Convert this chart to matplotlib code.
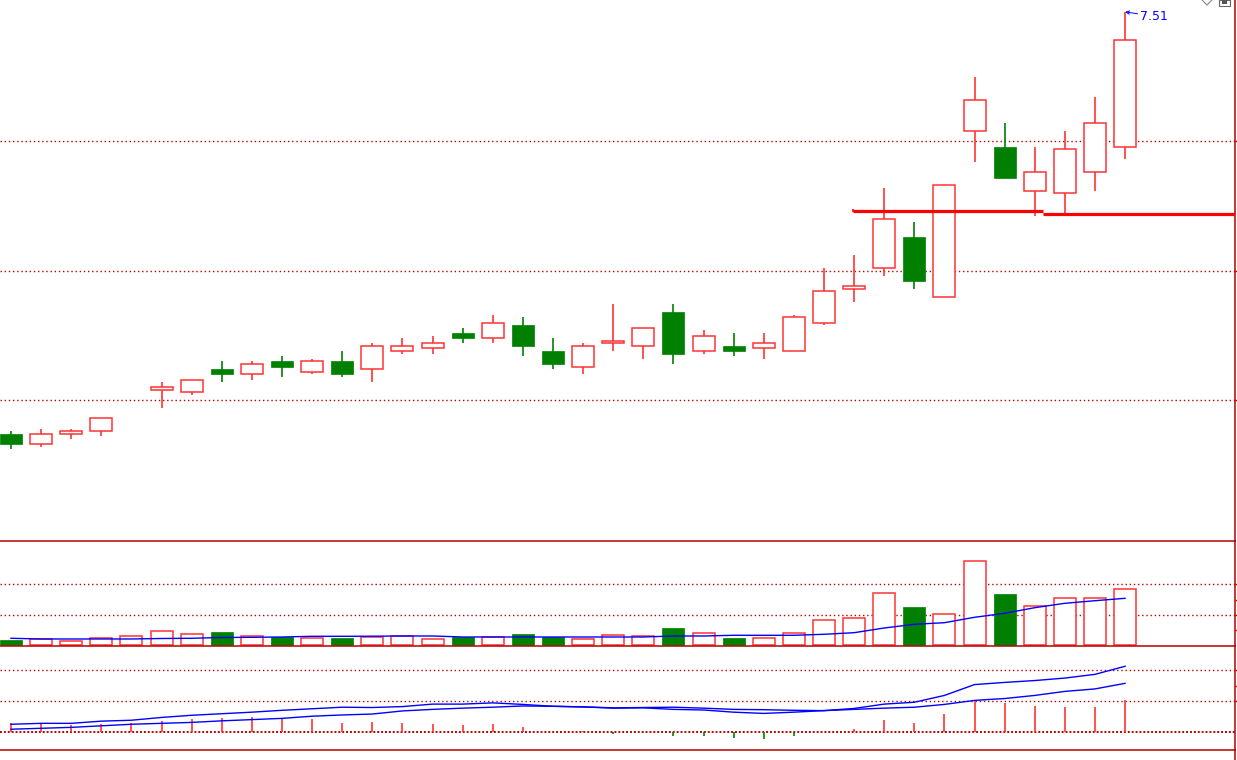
import numpy as np
import matplotlib.pyplot as plt
from matplotlib.patches import Rectangle
from matplotlib.lines import Line2D

nan = np.nan

# daily k-line data (one day, index 4, has volume but no drawn candle)
opens = [5.88, 5.84, 5.88, 5.89, nan, 6.05, 6.04, 6.13, 6.11, 6.16,
         6.12, 6.16, 6.13, 6.20, 6.21, 6.27, 6.25, 6.30, 6.20, 6.14,
         6.23, 6.22, 6.35, 6.20, 6.22, 6.21, 6.20, 6.31, 6.44, 6.52,
         6.64, 6.41, 7.05, 6.99, 6.82, 6.81, 6.89, 6.99]
highs = [5.89, 5.90, 5.90, 5.94, nan, 6.08, 6.09, 6.16, 6.16, 6.18,
         6.17, 6.20, 6.23, 6.25, 6.26, 6.29, 6.34, 6.33, 6.25, 6.23,
         6.38, 6.29, 6.38, 6.28, 6.27, 6.27, 6.34, 6.52, 6.57, 6.83,
         6.70, 6.84, 7.26, 7.08, 6.99, 7.05, 7.18, 7.51]
lows = [5.82, 5.83, 5.86, 5.87, nan, 5.98, 6.03, 6.08, 6.09, 6.10,
        6.11, 6.10, 6.08, 6.19, 6.19, 6.23, 6.23, 6.18, 6.13, 6.11,
        6.20, 6.17, 6.15, 6.19, 6.18, 6.17, 6.20, 6.30, 6.39, 6.49,
        6.44, 6.41, 6.93, 6.87, 6.72, 6.73, 6.82, 6.94]
closes = [5.84, 5.88, 5.89, 5.94, nan, 6.06, 6.09, 6.11, 6.15, 6.14,
          6.16, 6.11, 6.22, 6.22, 6.23, 6.25, 6.31, 6.22, 6.15, 6.22,
          6.24, 6.29, 6.19, 6.26, 6.20, 6.23, 6.33, 6.43, 6.45, 6.71,
          6.47, 6.84, 7.17, 6.87, 6.89, 6.98, 7.08, 7.40]

volumes = [1.74, 2.07, 1.31, 2.30, 2.95, 4.59, 3.61, 4.36, 2.95, 2.62,
           2.30, 2.39, 2.82, 3.05, 1.97, 2.62, 2.62, 3.71, 2.62, 1.97,
           3.28, 3.05, 5.67, 3.93, 2.39, 2.30, 3.93, 8.20, 8.85, 17.05,
           12.56, 10.16, 27.54, 16.82, 12.79, 15.41, 15.41, 18.36]
vol_ma5 = [2.30, 2.07, 2.07, 2.07, 2.07, 2.23, 2.30, 2.56, 2.62, 2.72,
           2.95, 2.95, 2.98, 3.05, 3.05, 2.72, 2.72, 2.72, 2.72, 2.72,
           2.72, 2.72, 3.05, 3.05, 3.28, 3.28, 3.28, 3.61, 4.13, 5.67,
           6.89, 7.41, 9.18, 10.49, 12.33, 13.77, 14.62, 15.41]

dif = [0.025, 0.028, 0.028, 0.035, 0.038, 0.047, 0.054, 0.059, 0.064, 0.070,
       0.075, 0.080, 0.079, 0.082, 0.090, 0.090, 0.094, 0.089, 0.083, 0.081,
       0.077, 0.078, 0.073, 0.071, 0.064, 0.060, 0.064, 0.069, 0.076, 0.090,
       0.096, 0.118, 0.153, 0.160, 0.166, 0.174, 0.186, 0.212]
dea = [0.009, 0.012, 0.015, 0.020, 0.025, 0.028, 0.031, 0.036, 0.040, 0.044,
       0.051, 0.055, 0.058, 0.068, 0.073, 0.077, 0.080, 0.084, 0.083, 0.081,
       0.078, 0.079, 0.080, 0.077, 0.073, 0.072, 0.070, 0.069, 0.073, 0.077,
       0.080, 0.089, 0.102, 0.108, 0.118, 0.131, 0.139, 0.157]
macd = [0.030, 0.028, 0.023, 0.026, 0.030, 0.036, 0.042, 0.045, 0.048, 0.045,
        0.042, 0.029, 0.032, 0.029, 0.026, 0.023, 0.026, 0.016, 0.000, 0.002,
        -0.005, -0.002, -0.013, -0.013, -0.019, -0.023, -0.013, 0.000, 0.009, 0.039,
        0.029, 0.058, 0.103, 0.094, 0.084, 0.081, 0.081, 0.103]

# hand-drawn support lines: (start index, end index, price)
support_lines = [(27.96, 34.28, 6.74), (34.28, 40.7, 6.73)]

RED = '#ff3333'
GREEN = '#008000'
BLUE = '#0000ff'
FRAME = '#b80000'
GRID = '#c00000'
BODY_W = 0.73

W, H = 1237, 760
fig = plt.figure(figsize=(W / 100, H / 100), dpi=100)
xr = 1234.5 / W
ax_k = fig.add_axes([0, 1 - 541.3 / H, xr, 541.3 / H])
ax_v = fig.add_axes([0, 1 - 646.3 / H, xr, 105 / H], sharex=ax_k)
ax_m = fig.add_axes([0, 1 - 750.3 / H, xr, 104 / H], sharex=ax_k)

idx = np.arange(len(opens))
o = np.array(opens); h = np.array(highs); l = np.array(lows); c = np.array(closes)
down = c < o

# ---- candles
for i in idx:
    if np.isnan(o[i]):
        continue
    top, bot = max(o[i], c[i]), min(o[i], c[i])
    if down[i]:
        ax_k.vlines(i, l[i], h[i], color=GREEN, lw=1.2)
        ax_k.add_patch(Rectangle((i - BODY_W / 2, bot), BODY_W, top - bot,
                                 facecolor=GREEN, edgecolor=GREEN, lw=0.5, zorder=3))
    else:
        ax_k.vlines(i, top, h[i], color=RED, lw=1.2)
        ax_k.vlines(i, l[i], bot, color=RED, lw=1.2)
        ax_k.add_patch(Rectangle((i - BODY_W / 2, bot), BODY_W, max(top - bot, 0.004),
                                 facecolor='white', edgecolor=RED, lw=1.1, zorder=3))

for x0, x1, p in support_lines:
    ax_k.hlines(p, x0, x1, color='#ff0000', lw=2.3, zorder=4)
ax_k.vlines(support_lines[0][0], support_lines[0][2] - 0.004, support_lines[0][2] + 0.008,
            color='#ff0000', lw=1.2, zorder=4)

i_max = int(np.nanargmax(h))
ax_k.annotate(f'{h[i_max]:.2f}', xy=(i_max, h[i_max]), xytext=(11, -3),
              textcoords='offset points', color=BLUE, fontsize=9, va='center', ha='left',
              arrowprops=dict(arrowstyle='->', color=BLUE, lw=0.7, shrinkA=0, shrinkB=0,
                              mutation_scale=6))

ax_k.set_ylim(5.4649, 7.5562)
k_ticks = [6.01, 6.51, 7.01]

# ---- volume
vol = np.array(volumes)
ax_v.bar(idx[~down], vol[~down], width=BODY_W, facecolor='white', edgecolor=RED, lw=1.1)
ax_v.bar(idx[down], vol[down], width=BODY_W, facecolor=GREEN, edgecolor=GREEN, lw=0.5)
ax_v.plot(idx, vol_ma5, color=BLUE, lw=1.0, zorder=4)
ax_v.set_ylim(-0.33, 34.1)
v_ticks = [10, 20]

# ---- MACD
mv = np.array(macd)
ax_m.vlines(idx[mv >= 0], 0, mv[mv >= 0], color=RED, lw=1.2)
ax_m.vlines(idx[mv < 0], 0, mv[mv < 0], color=GREEN, lw=1.2)
ax_m.plot(idx, dif, color=BLUE, lw=1.0)
ax_m.plot(idx, dea, color=BLUE, lw=1.0)
ax_m.axhline(0, color=GRID, lw=1.4, ls=(0, (1, 1)), zorder=0)
ax_m.set_ylim(-0.059, 0.2765)
m_ticks = [0.1, 0.2]

for ax, grid, ticks in [(ax_k, k_ticks, k_ticks), (ax_v, v_ticks, [5, 10, 15, 20]),
                        (ax_m, m_ticks, [0.1, 0.15, 0.2])]:
    for g in grid:
        ax.axhline(g, color=GRID, lw=1.0, ls=(0, (1, 2)), zorder=0)
    ax.set_xlim(-0.365, 40.634)
    for s in ('top', 'left'):
        ax.spines[s].set_visible(False)
    for s in ('right', 'bottom'):
        ax.spines[s].set_color(FRAME)
        ax.spines[s].set_linewidth(1.1)
    ax.yaxis.tick_right()
    ax.set_yticks(ticks)
    ax.tick_params(axis='y', colors=FRAME, length=4, width=1, labelright=False)
    ax.tick_params(axis='x', bottom=False, labelbottom=False)
    ax.patch.set_alpha(0)

# right frame continues to the bottom edge
fig.add_artist(Line2D([xr, xr], [0, 1 - 750.3 / H], color=FRAME, lw=1.1))
# toolbar icons cut at the top right
fig.add_artist(Line2D([1202 / W, 1207 / W, 1212 / W], [1, 1 - 5 / H, 1], color='#888888', lw=0.8))
fig.add_artist(Rectangle((1219 / W, 1 - 6 / H), 11 / W, 6 / H, facecolor='white',
                         edgecolor='#666666', lw=0.8))
fig.add_artist(Rectangle((1222 / W, 1 - 4 / H), 5 / W, 4 / H, facecolor='#555555', lw=0))

fig.savefig('out.png', dpi=100, facecolor='white')
